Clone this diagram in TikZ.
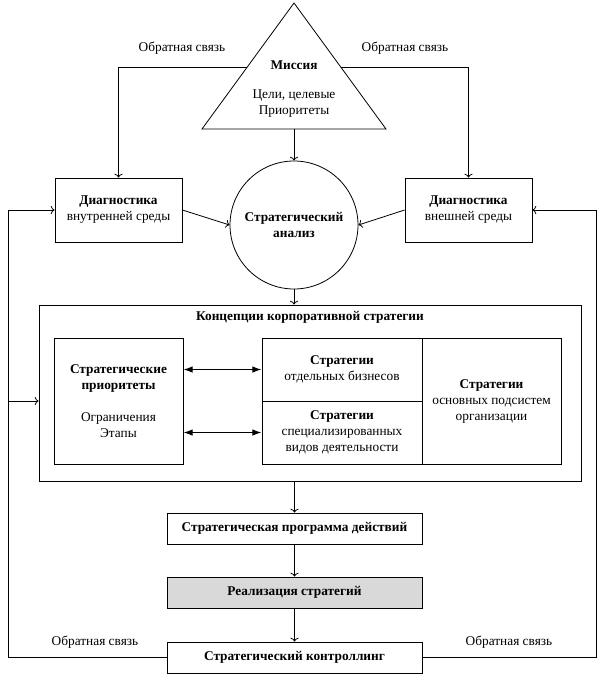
\documentclass[tikz,border=0pt]{standalone}
\usepackage{fontspec}
\setmainfont{Liberation Serif}
\usetikzlibrary{arrows}
\usetikzlibrary{arrows.meta}
\usetikzlibrary{positioning}
\usetikzlibrary{calc}

\begin{document}
\begin{tikzpicture}[
x=0.75pt, y=-0.75pt,
font=\fontsize{10}{12}\selectfont,
box/.style ={rectangle, draw, line width=0.6pt, align=center, inner sep=0pt},
diag/.style ={box, minimum width=95.25pt, minimum height=48pt},
part/.style ={box, minimum width=120pt, minimum height=47.25pt},
flow/.style ={box, minimum width=191.25pt, minimum height=23.25pt,
  font=\fontsize{10}{12}\selectfont\bfseries},
note/.style ={inner sep=0pt, align=center},
line/.style ={draw, line width=0.6pt, ->},
dblline/.style ={draw, line width=1pt, {Latex[length=7pt,width=5pt]}-{Latex[length=7pt,width=5pt]}}
]
\useasboundingbox (0,0) rectangle (605,676);

% mission triangle
\coordinate (top) at (294,3);
\coordinate (baseL) at (202,129);
\coordinate (baseR) at (386,129);
\coordinate (misbot) at (294,129);
\draw[line width=0.6pt] (top) -- (baseL) -- (baseR) -- cycle;
\node[note] (mission) at (294,89) {\textbf{Миссия}\\[9.75pt]Цели, целевые\\Приоритеты};
\coordinate (fbL) at ($(top)!0.508!(baseL)$);
\coordinate (fbR) at ($(top)!0.508!(baseR)$);

\node[diag] (inner) at (118.5,210) {\textbf{Диагностика}\\внутренней среды};
\node[diag] (outer) at (468.5,210) {\textbf{Диагностика}\\внешней среды};
\node[circle, draw, line width=0.6pt, minimum size=96pt, inner sep=0pt, align=center]
  (analysis) at (294,225) {\textbf{Стратегический}\\\textbf{анализ}};

% corporate strategy block
\node[box, minimum width=406.5pt, minimum height=132pt] (concept) at (310,393) {};
\node[note, font=\fontsize{10}{12}\selectfont\bfseries] (ctitle) at (310,317)
  {Концепции корпоративной стратегии};
\node[box, minimum width=96.75pt, minimum height=94.5pt] (prio) at (118.5,401)
  {\textbf{Стратегические}\\\textbf{приоритеты}\\[12pt]Ограничения\\Этапы};
\node[part] (biz) at (342,369.5) {\textbf{Стратегии}\\отдельных бизнесов};
\node[part] (spec) at (342,432.5)
  {\textbf{Стратегии}\\специализированных\\видов деятельности};
\node[box, minimum width=104.25pt, minimum height=94.5pt] (sub) at (491.5,401)
  {\textbf{Стратегии}\\основных подсистем\\организации};

\node[flow] (program) at (294.5,528.5) {Стратегическая программа действий};
\node[flow, fill=black!15] (real) at (294.5,592.5) {Реализация стратегий};
\node[flow] (ctrl) at (294.5,657.5) {Стратегический контроллинг};

\node[note] (fbtopL) at (182,48) {Обратная связь};
\node[note] (fbtopR) at (405,48) {Обратная связь};
\node[note] (fbbotL) at (95,642) {Обратная связь};
\node[note] (fbbotR) at (509,642) {Обратная связь};

\coordinate (leftrail) at (8,0);
\coordinate (rightrail) at (596.5,0);

\path[line] (fbL) -| (inner.north);
\path[line] (fbR) -| (outer.north);
\path[line] (misbot) -- (analysis);
\path[line] (inner.east) -- (analysis.west);
\path[line] (outer.west) -- (analysis.east);
\path[line] (analysis.south) -- (analysis.south |- concept.north);
\path[line] (program |- concept.south) -- (program.north);
\path[line] (program) -- (real);
\path[line] (real) -- (ctrl);
\path[line] (ctrl.west) -- (ctrl.west -| leftrail) |- (inner.west);
\path[line] (leftrail |- prio) -- (concept.west |- prio);
\path[line] (ctrl.east) -- (ctrl.east -| rightrail) |- (outer.east);
\path[dblline] (prio.east |- biz) -- (biz.west);
\path[dblline] (prio.east |- spec) -- (spec.west);
\end{tikzpicture}
\end{document}
